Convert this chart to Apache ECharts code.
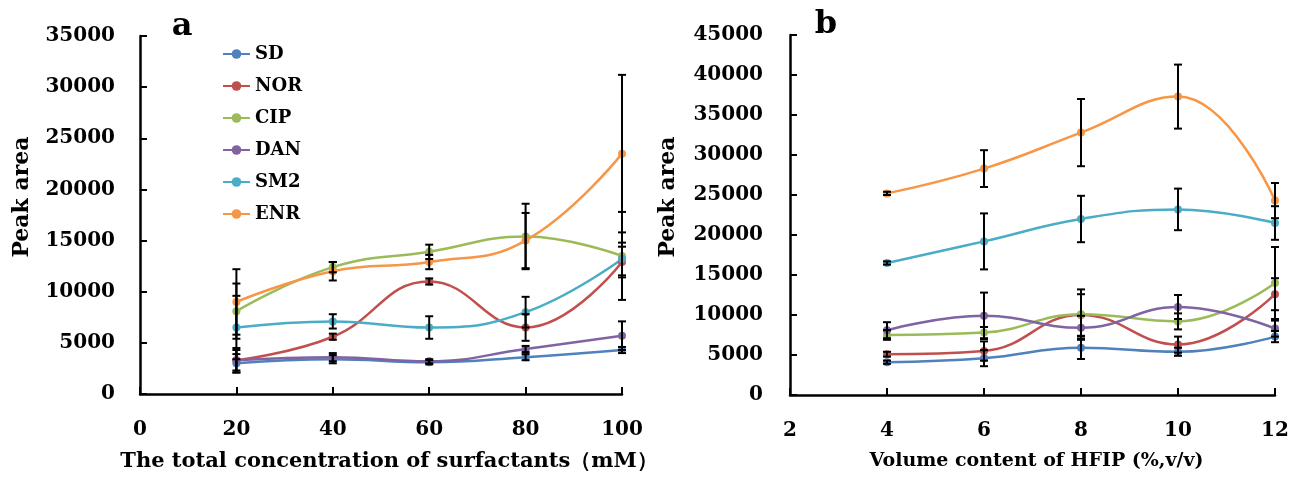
<!DOCTYPE html>
<html>
<head>
<meta charset="utf-8">
<script src="https://cdn.jsdelivr.net/npm/echarts@6/dist/echarts.min.js"></script>
<style>
html,body{margin:0;padding:0;background:#fff;}
#chart{width:1295px;height:488px;}
</style>
</head>
<body>
<div id="chart"></div>
<script>
// ---- Data ----
const seriesNames = ['SD', 'NOR', 'CIP', 'DAN', 'SM2', 'ENR'];
const seriesColors = ['#4F81BD', '#C0504D', '#9BBB59', '#8064A2', '#4BACC6', '#F79646'];

// Panel a: total concentration of surfactants (mM)
const xA = [20, 40, 60, 80, 100];
const SD_a  = [3000, 3400, 3100, 3600, 4300];
const NOR_a = [3300, 5600, 11000, 6500, 12900];
const CIP_a = [8100, 12400, 13900, 15400, 13500];
const DAN_a = [3300, 3600, 3200, 4400, 5700];
const SM2_a = [6500, 7100, 6500, 8000, 13200];
const ENR_a = [9000, 12000, 12900, 15000, 23500];
const SD_a_err  = [900, 400, 200, 300, 300];
const NOR_a_err = [1000, 300, 300, 1300, 1500];
const CIP_a_err = [2700, 500, 700, 3200, 4300];
const DAN_a_err = [1200, 400, 200, 300, 1400];
const SM2_a_err = [3100, 700, 1100, 1500, 1600];
const ENR_a_err = [3200, 900, 700, 2700, 7700];

// Panel b: volume content of HFIP (%, v/v)
const xB = [4, 6, 8, 10, 12];
const SD_b  = [4100, 4600, 5900, 5400, 7300];
const NOR_b = [5100, 5500, 10000, 6300, 12600];
const CIP_b = [7500, 7800, 10100, 9200, 14000];
const DAN_b = [8100, 9900, 8400, 11000, 8300];
const SM2_b = [16500, 19200, 22000, 23200, 21500];
const ENR_b = [25200, 28300, 32800, 37300, 24300];
const SD_b_err  = [200, 1000, 1400, 500, 700];
const NOR_b_err = [300, 1200, 2600, 1000, 2000];
const CIP_b_err = [600, 700, 3100, 1000, 4500];
const DAN_b_err = [1000, 2900, 1500, 1500, 1000];
const SM2_b_err = [200, 3500, 2900, 2600, 2100];
const ENR_b_err = [200, 2300, 4200, 4000, 2200];

// Axis ticks
const xTicksA = {min: 0, max: 100, interval: 20};
const yTicksA = {min: 0, max: 35000, interval: 5000};
const xTicksB = {min: 2, max: 12, interval: 2};
const yTicksB = {min: 0, max: 45000, interval: 5000};

const xTitleA = 'The total concentration of surfactants（mM）';
const xTitleB = 'Volume content of HFIP (%,v/v)';
const yTitle = 'Peak area';

// ---- Build ----
const FONT = '"DejaVu Serif", "Liberation Serif", serif';
const valsA = [SD_a, NOR_a, CIP_a, DAN_a, SM2_a, ENR_a];
const errsA = [SD_a_err, NOR_a_err, CIP_a_err, DAN_a_err, SM2_a_err, ENR_a_err];
const valsB = [SD_b, NOR_b, CIP_b, DAN_b, SM2_b, ENR_b];
const errsB = [SD_b_err, NOR_b_err, CIP_b_err, DAN_b_err, SM2_b_err, ENR_b_err];

function lineSeries(name, color, xs, ys, idx) {
  return {
    name: name, type: 'line', xAxisIndex: idx, yAxisIndex: idx,
    data: xs.map((x, i) => [x, ys[i]]),
    smooth: 0.45,
    symbol: 'circle', symbolSize: 8,
    lineStyle: {color: color, width: 2.5},
    itemStyle: {color: color},
    z: 3
  };
}
function errSeries(xs, ys, es, idx) {
  return {
    type: 'custom', xAxisIndex: idx, yAxisIndex: idx,
    data: xs.map((x, i) => [x, ys[i] - es[i], ys[i] + es[i]]),
    encode: {x: 0, y: [1, 2]},
    silent: true, z: 5,
    renderItem: function (params, api) {
      const x = api.value(0), lo = api.value(1), hi = api.value(2);
      const pHi = api.coord([x, hi]);
      const pLo = api.coord([x, lo]);
      const w = 4;
      const st = {stroke: '#000', lineWidth: 2};
      return {type: 'group', children: [
        {type: 'line', shape: {x1: pHi[0], y1: pHi[1], x2: pLo[0], y2: pLo[1]}, style: st},
        {type: 'line', shape: {x1: pHi[0] - w, y1: pHi[1], x2: pHi[0] + w, y2: pHi[1]}, style: st},
        {type: 'line', shape: {x1: pLo[0] - w, y1: pLo[1], x2: pLo[0] + w, y2: pLo[1]}, style: st}
      ]};
    }
  };
}

const series = [];
seriesNames.forEach((n, i) => series.push(lineSeries(n, seriesColors[i], xA, valsA[i], 0)));
seriesNames.forEach((n, i) => series.push(lineSeries(n, seriesColors[i], xB, valsB[i], 1)));
seriesNames.forEach((n, i) => series.push(errSeries(xA, valsA[i], errsA[i], 0)));
seriesNames.forEach((n, i) => series.push(errSeries(xB, valsB[i], errsB[i], 1)));

const axisLine = {show: true, lineStyle: {color: '#000', width: 2.5}};
const axisTick = {show: true, inside: true, length: 7, lineStyle: {color: '#000', width: 2}};
const labelStyle = {color: '#000', fontFamily: FONT, fontWeight: 'bold', fontSize: 20};
const plain = v => String(v);

function xAxis(idx, t, title, shift, size) {
  return Object.assign({
    type: 'value', gridIndex: idx,
    axisLine: axisLine, axisTick: axisTick, splitLine: {show: false},
    axisLabel: Object.assign({margin: 26, formatter: plain}, labelStyle),
    name: title, nameLocation: 'middle', nameGap: 57,
    nameTextStyle: {color: '#000', fontFamily: FONT, fontWeight: 'bold', fontSize: size, padding: [0, 0, 0, shift]}
  }, t);
}
function yAxis(idx, t, margin) {
  return Object.assign({
    type: 'value', gridIndex: idx,
    axisLine: axisLine, axisTick: axisTick, splitLine: {show: false},
    axisLabel: Object.assign({margin: margin, formatter: plain}, labelStyle)
  }, t);
}

const option = {
  backgroundColor: '#fff',
  animation: false,
  grid: [
    {left: 140, top: 36, width: 482, height: 358},
    {left: 790, top: 35, width: 485, height: 360}
  ],
  xAxis: [xAxis(0, xTicksA, xTitleA, 16, 21), xAxis(1, xTicksB, xTitleB, 8, 19)],
  yAxis: [yAxis(0, yTicksA, 25), yAxis(1, yTicksB, 27)],
  legend: {
    data: seriesNames, orient: 'vertical', left: 222, top: 45,
    itemWidth: 27, itemHeight: 12, itemGap: 14, padding: 0,
    textStyle: {color: '#000', fontFamily: FONT, fontWeight: 'bold', fontSize: 18}
  },
  graphic: [
    {type: 'text', x: 182, y: 27, style: {text: 'a', fill: '#000', font: 'bold 32px ' + FONT, textAlign: 'center', textVerticalAlign: 'middle'}},
    {type: 'text', x: 826, y: 25, style: {text: 'b', fill: '#000', font: 'bold 32px ' + FONT, textAlign: 'center', textVerticalAlign: 'middle'}},
    {type: 'text', x: 22, y: 197, rotation: Math.PI / 2, style: {text: yTitle, fill: '#000', font: 'bold 22px ' + FONT, textAlign: 'center', textVerticalAlign: 'middle'}},
    {type: 'text', x: 668, y: 197, rotation: Math.PI / 2, style: {text: yTitle, fill: '#000', font: 'bold 22px ' + FONT, textAlign: 'center', textVerticalAlign: 'middle'}}
  ],
  series: series
};

const chart = echarts.init(document.getElementById('chart'), null, {renderer: 'canvas'});
chart.setOption(option);
</script>
</body>
</html>
